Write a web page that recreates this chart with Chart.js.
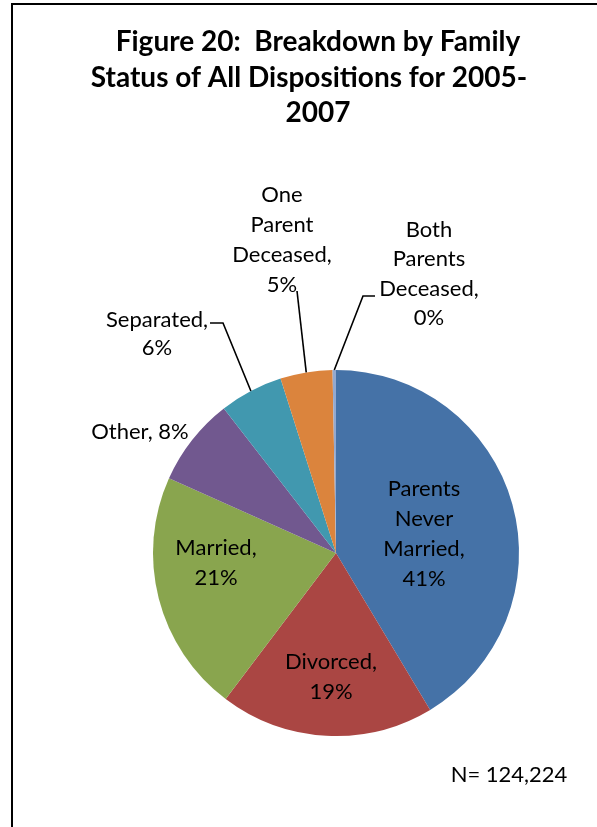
<!DOCTYPE html>
<html>
<head>
<meta charset="utf-8">
<script src="https://cdn.jsdelivr.net/npm/chart.js@4"></script>
<style>
  html, body { margin: 0; padding: 0; background: #fff; }
  #frame { position: absolute; left: 11px; top: 3px; width: 600px; height: 840px;
           border-left: 2px solid #000; border-top: 2px solid #000; }
  #wrap { position: absolute; left: 0; top: 0; width: 597px; height: 827px; }
</style>
</head>
<body>
<div id="frame"></div>
<div id="wrap"><canvas id="pieChart" width="597" height="827"></canvas></div>
<script>
// data (share of all dispositions, %)
const categories = ['Parents Never Married', 'Divorced', 'Married', 'Other',
                    'Separated', 'One Parent Deceased', 'Both Parents Deceased'];
const shares = [41.4, 18.9, 21.4, 7.8, 5.6, 4.6, 0.3];
const sliceColors = ['#4572A7', '#AA4643', '#89A54E', '#71588F', '#4198AF', '#DB843D', '#93A9CF'];
const titleLines = ['Figure 20:  Breakdown by Family', 'Status of All Dispositions for 2005-', '2007'];
const noteText = 'N= 124,224';

// how each label is broken into lines (last line is the percentage)
const labelLines = [
    ['Parents', 'Never', 'Married,'],
    ['Divorced,'],
    ['Married,'],
    ['Other, '],
    ['Separated,'],
    ['One', 'Parent', 'Deceased,'],
    ['Both', 'Parents', 'Deceased,']
];
// label placement, offsets from pie centre (px); leader = points before the slice edge
const labelLayout = [
    { dx: 88, dy: -64, gap: 30 },
    { dx: -5, dy: 109, gap: 30 },
    { dx: -120, dy: -5, gap: 30 },
    { dx: -196, dy: -121, gap: 30, inline: true },
    { dx: -179, dy: -233, gap: 28, leader: [[-126, -230], [-113, -230]] },
    { dx: -54, dy: -358, gap: 30, leader: [[-39, -262]] },
    { dx: 93, dy: -323, gap: 29.3, leader: [[39, -257], [27, -257]] }
];

const FONT = 'Lato, "Open Sans", sans-serif';

const labelPlugin = {
    id: 'excelLabels',
    afterDraw(chart) {
        const ctx = chart.ctx;
        const arcs = chart.getDatasetMeta(0).data;
        const total = shares.reduce((a, b) => a + b, 0);
        ctx.save();
        ctx.fillStyle = '#000';
        ctx.textAlign = 'center';
        ctx.textBaseline = 'middle';

        // title (second line sits a little left, as in the original)
        ctx.font = 'bold 28px ' + FONT;
        const titleX = [318, 309, 318];
        titleLines.forEach((t, i) => ctx.fillText(t, titleX[i], 42 + i * 35.5));

        // leader lines
        ctx.strokeStyle = '#000';
        ctx.lineWidth = 1.6;
        arcs.forEach((arc, i) => {
            const lay = labelLayout[i];
            if (!lay.leader) return;
            const mid = (arc.startAngle + arc.endAngle) / 2;
            ctx.beginPath();
            lay.leader.forEach((p, k) => {
                const x = arc.x + p[0], y = arc.y + p[1];
                if (k === 0) ctx.moveTo(x, y); else ctx.lineTo(x, y);
            });
            ctx.lineTo(arc.x + Math.cos(mid) * arc.outerRadius,
                       arc.y + Math.sin(mid) * arc.outerRadius);
            ctx.stroke();
        });

        // labels
        ctx.font = '22px ' + FONT;
        arcs.forEach((arc, i) => {
            const lay = labelLayout[i];
            const pct = Math.round(shares[i] / total * 100) + '%';
            let lines = labelLines[i].slice();
            if (lay.inline) lines[lines.length - 1] += pct; else lines.push(pct);
            lines.forEach((t, k) => ctx.fillText(t, arc.x + lay.dx, arc.y + lay.dy + k * lay.gap));
        });

        // sample size note
        ctx.fillText(noteText, 509, 775);
        ctx.restore();
    }
};

new Chart(document.getElementById('pieChart').getContext('2d'), {
    type: 'pie',
    data: {
        labels: categories,
        datasets: [{
            data: shares,
            backgroundColor: sliceColors,
            borderWidth: 0
        }]
    },
    options: {
        responsive: false,
        animation: false,
        layout: { padding: { left: 153, right: 78, top: 370, bottom: 91 } },
        plugins: {
            legend: { display: false },
            tooltip: { enabled: false },
            title: { display: false }
        }
    },
    plugins: [labelPlugin]
});
</script>
</body>
</html>
